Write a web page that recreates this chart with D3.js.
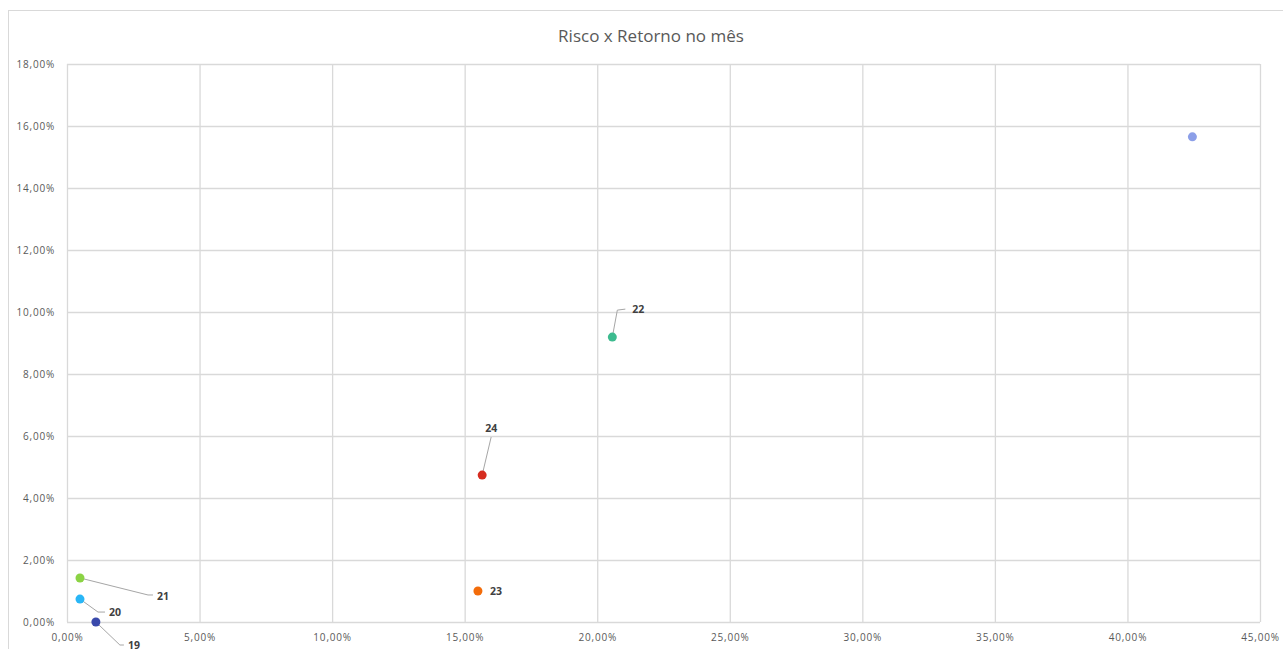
<!DOCTYPE html>
<html><head><meta charset="utf-8">
<script src="https://cdn.jsdelivr.net/npm/d3@7"></script>
<style>body{margin:0;background:#fff;}svg{display:block;}</style>
</head><body>
<svg id="c" width="1283" height="649"></svg>
<script>
const title = "Risco x Retorno no mês";
const labels = ["19", "20", "21", "22", "23", "24", ""];
const risk   = [0.0109, 0.0049, 0.0049, 0.2057, 0.1550, 0.1566, 0.4245];
const ret    = [0.0000, 0.0074, 0.0142, 0.0919, 0.0100, 0.0474, 0.1565];
const colors = ["#3949ab", "#29b6f6", "#8bd344", "#3dbb8f", "#f36c0a", "#d62d20", "#8c9fe8"];
const xTicks = [0, 0.05, 0.10, 0.15, 0.20, 0.25, 0.30, 0.35, 0.40, 0.45];
const yTicks = [0, 0.02, 0.04, 0.06, 0.08, 0.10, 0.12, 0.14, 0.16, 0.18];
// label leader layout (pixels relative to the point)
const labelLayout = [
  {pts:[[24,23],[28,23]], tx:32, ty:23},
  {pts:[[18,13],[25,13]], tx:29, ty:13},
  {pts:[[68,17],[73,17]], tx:77, ty:18},
  {pts:[[5,-27],[13,-28]], tx:20, ty:-28},
  {pts:null, tx:12, ty:0},
  {pts:[[9,-38]], tx:3, ty:-47},
  {pts:null, tx:0, ty:0}
];

const svg = d3.select("#c");
const fmt = v => d3.format(".2f")(v*100).replace(".", ",") + "%";

svg.append("rect").attr("x", 8.5).attr("y", 10.5).attr("width", 1300).attr("height", 660)
  .attr("fill", "#fff").attr("stroke", "#d9d9d9").attr("stroke-width", 1);

const m = {l: 67, r: 1260, t: 64, b: 622};
const x = d3.scaleLinear().domain([0, 0.45]).range([m.l, m.r]);
const y = d3.scaleLinear().domain([0, 0.18]).range([m.b, m.t]);

svg.append("text").attr("x", 651).attr("y", 42).attr("text-anchor", "middle")
  .attr("font-family", "Open Sans, sans-serif").attr("font-size", 17).attr("fill", "#595959")
  .text(title);

const gx = svg.append("g").attr("transform", `translate(0,${m.b})`)
  .call(d3.axisBottom(x).tickValues(xTicks).tickFormat(fmt).tickSize(-(m.b - m.t)).tickPadding(10));
const gy = svg.append("g").attr("transform", `translate(${m.l},0)`)
  .call(d3.axisLeft(y).tickValues(yTicks).tickFormat(fmt).tickSize(-(m.r - m.l)).tickPadding(12));
[gx, gy].forEach(g => {
  g.select(".domain").remove();
  g.selectAll(".tick line").attr("stroke", "#d9d9d9").attr("stroke-width", 1.3);
  g.selectAll(".tick text").attr("font-family", "Open Sans, sans-serif").attr("font-size", 10)
    .attr("letter-spacing", "0.8px").attr("fill", "#595959");
});
gx.selectAll(".tick text").attr("dy", "0.85em");

const pts = svg.append("g");
risk.forEach((r, i) => {
  const px = x(r), py = y(ret[i]);
  const L = labelLayout[i];
  if (L.pts) {
    const path = d3.path();
    path.moveTo(px, py);
    L.pts.forEach(p => path.lineTo(px + p[0], py + p[1]));
    pts.append("path").attr("d", path.toString()).attr("fill", "none")
      .attr("stroke", "#a6a6a6").attr("stroke-width", 1);
  }
  if (labels[i]) {
    pts.append("text").attr("x", px + L.tx).attr("y", py + L.ty).attr("dy", "0.35em")
      .attr("font-family", "Open Sans, sans-serif").attr("font-size", 10.5).attr("font-weight", "bold")
      .attr("fill", "#404040").text(labels[i]);
  }
});
risk.forEach((r, i) => {
  pts.append("circle").attr("cx", x(r)).attr("cy", y(ret[i])).attr("r", 4.5).attr("fill", colors[i]);
});
</script>
</body></html>
